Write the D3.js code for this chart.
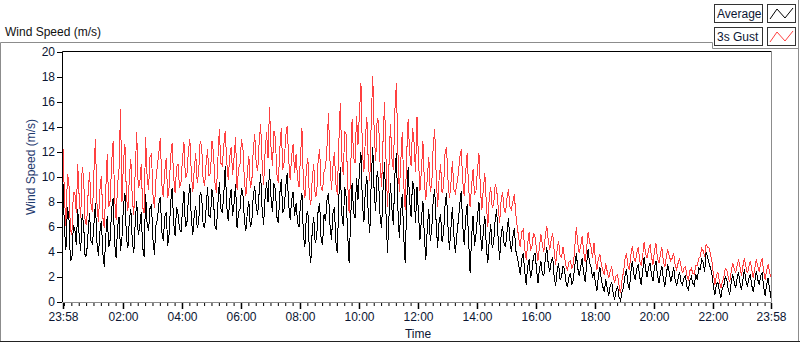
<!DOCTYPE html>
<html>
<head>
<meta charset="utf-8">
<script src="https://cdn.jsdelivr.net/npm/d3@7"></script>
<style>
  body { margin: 0; background: #fff; }
  text { font-family: "Liberation Sans", Arial, sans-serif; }
</style>
</head>
<body>
<div id="chart"></div>
<script>
// samples every 3 minutes, starting 23:58 the day before (one row = one hour)
var stepMinutes = 3;
var seriesNames = ["Average", "3s Gust"];
var yTickValues = [0, 2, 4, 6, 8, 10, 12, 14, 16, 18, 20];
var xTickLabels = ["23:58", "02:00", "04:00", "06:00", "08:00", "10:00", "12:00",
  "14:00", "16:00", "18:00", "20:00", "22:00", "23:58"];

var avgSpeed = [
  9.5, 5.8, 4.2, 7.6, 6.8, 3.3, 3.4, 6.1, 5.9, 4.6, 7.4, 5.2, 4.1, 7.0, 6.2, 3.6, 3.8, 5.5, 7.1, 4.9,
  4.6, 6.3, 7.9, 4.8, 3.7, 5.6, 6.5, 3.9, 2.8, 5.3, 6.9, 4.4, 5.0, 7.5, 8.3, 4.7, 3.5, 6.0, 6.8, 4.1,
  5.2, 7.7, 8.7, 5.1, 4.3, 6.6, 7.4, 4.8, 3.9, 6.4, 8.1, 5.4, 6.0, 7.2, 4.4, 3.6, 8.6, 6.3, 5.7, 7.5,
  7.8, 5.0, 3.8, 6.1, 6.6, 7.9, 8.4, 5.6, 4.9, 6.8, 7.2, 4.5, 5.5, 8.0, 9.1, 6.4, 5.3, 7.6, 7.0, 5.8,
  5.6, 7.3, 8.9, 6.0, 6.3, 8.2, 9.4, 6.7, 5.4, 7.0, 7.7, 5.9, 6.4, 8.8, 8.5, 6.2, 5.9, 7.4, 9.2, 6.9,
  6.8, 9.0, 8.2, 6.1, 5.8, 7.8, 9.6, 7.5, 7.1, 8.6, 10.9, 7.7, 6.5, 8.1, 9.0, 6.9, 7.9, 9.4, 5.9, 7.2,
  7.4, 9.1, 8.6, 6.5, 5.7, 7.2, 8.1, 6.0, 6.4, 8.5, 9.3, 7.6, 7.0, 8.8, 10.2, 7.4, 6.2, 8.3, 9.6, 8.0,
  10.6, 8.4, 7.2, 9.5, 9.0, 6.8, 6.3, 8.7, 9.8, 7.1, 7.5, 9.2, 10.3, 7.8, 6.6, 8.1, 8.8, 6.9, 7.9, 6.4,
  6.0, 7.8, 8.7, 5.3, 4.4, 6.9, 7.3, 4.2, 3.1, 5.8, 6.8, 4.7, 5.2, 7.4, 7.9, 5.0, 4.6, 7.0, 6.5, 8.2,
  8.7, 6.2, 5.0, 7.1, 7.6, 4.8, 3.9, 8.3, 10.8, 7.0, 6.1, 9.2, 8.4, 5.4, 3.1, 6.6, 9.5, 7.2, 6.7, 9.9,
  8.2, 10.6, 12.0, 7.8, 6.4, 9.0, 10.1, 6.9, 5.5, 9.8, 12.4, 8.6, 7.3, 10.5, 9.6, 6.8, 5.9, 9.1, 11.2, 7.0,
  3.9, 6.8, 9.5, 7.4, 6.2, 10.2, 11.9, 7.6, 5.1, 7.3, 8.6, 5.2, 3.1, 7.9, 10.8, 8.1, 6.8, 9.7, 9.0, 6.3,
  9.2, 7.1, 5.0, 6.6, 8.1, 5.2, 3.4, 6.0, 7.4, 4.9, 5.8, 8.2, 9.0, 6.3, 4.3, 6.5, 7.0, 4.8, 5.5, 7.7,
  8.7, 6.0, 4.2, 5.9, 7.6, 5.3, 3.9, 5.4, 6.5, 7.8, 8.9, 6.1, 4.6, 6.7, 7.8, 4.9, 2.3, 5.2, 6.9, 4.5,
  5.4, 6.9, 8.0, 5.5, 4.1, 5.7, 6.9, 4.4, 3.1, 5.0, 6.2, 4.3, 4.8, 6.6, 7.4, 5.1, 3.4, 5.3, 6.1, 4.7,
  4.4, 5.6, 6.7, 4.9, 4.0, 5.2, 5.9, 4.1, 3.6, 2.9, 2.2, 3.4, 3.9, 2.5, 1.4, 2.8, 3.4, 1.9, 2.6, 3.7,
  3.9, 2.7, 1.5, 2.6, 3.3, 2.2, 2.1, 3.5, 4.4, 3.0, 2.4, 3.2, 3.6, 2.0, 1.3, 2.5, 3.1, 1.8, 2.0, 2.9,
  2.6, 1.6, 1.2, 2.0, 2.3, 1.4, 1.8, 2.9, 3.9, 2.7, 2.1, 2.8, 3.5, 2.3, 1.6, 3.0, 4.2, 3.1, 2.8, 1.9,
  2.4, 1.5, 0.9, 2.1, 2.8, 1.7, 1.2, 0.8, 1.8, 1.1, 0.5, 1.3, 1.6, 0.7, 0.2, 0.9, 1.3, 0.4, 0.1, 0.8,
  1.2, 2.1, 2.6, 1.5, 1.0, 2.4, 3.3, 2.2, 1.8, 2.7, 3.0, 2.0, 1.4, 2.5, 3.6, 2.6, 2.0, 2.8, 3.1, 2.2,
  1.7, 2.8, 3.3, 2.2, 1.5, 2.3, 2.9, 1.9, 1.2, 2.2, 3.0, 2.4, 1.6, 2.1, 2.8, 1.8, 1.3, 1.9, 2.4, 1.6,
  1.4, 1.9, 2.1, 1.2, 1.0, 1.7, 2.0, 1.5, 1.3, 2.2, 1.8, 2.7, 2.6, 3.4, 3.2, 2.4, 4.0, 3.6, 3.1, 2.7,
  2.2, 1.2, 0.6, 1.4, 1.6, 0.9, 0.3, 1.1, 1.3, 2.0, 1.8, 1.0, 0.6, 1.5, 2.2, 1.6, 1.1, 1.9, 2.4, 1.5,
  1.0, 1.8, 2.6, 1.7, 1.2, 1.9, 2.2, 1.3, 0.8, 1.6, 2.5, 1.8, 1.4, 2.1, 2.3, 1.2, 0.5, 1.4, 1.9, 1.1, 0.3
];

var gustSpeed = [
  12.3, 8.4, 6.1, 10.2, 9.6, 5.8, 5.4, 8.7, 8.8, 7.1, 11.0, 8.3, 6.7, 10.8, 9.9, 6.4, 6.2, 8.6, 10.4, 7.8,
  7.2, 10.5, 13.0, 7.9, 6.4, 8.9, 10.1, 6.8, 5.9, 9.0, 11.8, 7.6, 8.1, 11.2, 12.9, 8.3, 6.6, 9.4, 10.7, 15.4,
  8.0, 11.3, 12.6, 8.5, 7.3, 10.0, 11.4, 8.2, 7.0, 10.6, 13.6, 9.1, 9.4, 11.0, 7.6, 7.1, 13.2, 10.1, 9.0, 11.6,
  11.8, 8.6, 7.5, 9.8, 10.9, 12.0, 13.1, 9.4, 8.4, 10.5, 11.5, 8.3, 9.2, 11.7, 12.7, 10.0, 8.7, 10.8, 11.0, 9.1,
  9.6, 11.4, 12.8, 9.9, 10.2, 12.1, 13.0, 10.3, 8.8, 10.6, 11.9, 9.5, 10.4, 12.9, 12.5, 9.8, 9.3, 11.0, 12.2, 10.1,
  10.3, 12.9, 12.0, 9.6, 8.7, 11.4, 13.8, 11.1, 10.9, 12.5, 13.7, 11.2, 9.8, 11.6, 12.4, 10.2, 11.6, 13.2, 9.0, 10.7,
  11.0, 13.0, 12.3, 9.7, 8.5, 10.4, 11.7, 9.1, 9.6, 12.2, 13.4, 11.0, 10.5, 12.8, 14.2, 11.1, 9.4, 11.9, 13.6, 11.5,
  15.6, 12.4, 10.9, 13.7, 13.1, 10.2, 9.5, 12.3, 13.9, 10.6, 11.2, 13.3, 14.1, 11.4, 9.8, 11.7, 12.6, 10.3, 11.8, 9.9,
  9.2, 11.6, 13.9, 9.4, 8.3, 10.7, 11.5, 8.5, 7.8, 9.9, 11.0, 8.4, 8.6, 11.4, 12.2, 9.0, 8.9, 10.5, 10.7, 12.5,
  15.1, 11.3, 9.0, 10.8, 12.0, 9.4, 8.6, 12.7, 15.9, 11.4, 10.2, 13.6, 13.4, 9.5, 7.1, 10.4, 14.6, 11.6, 11.1, 14.9,
  12.6, 15.2, 17.5, 12.0, 10.4, 13.1, 14.8, 11.0, 9.7, 14.6, 18.1, 13.5, 11.3, 14.7, 14.4, 10.9, 9.2, 13.0, 16.0, 11.4,
  7.6, 10.9, 14.2, 11.5, 10.6, 15.3, 17.5, 12.2, 8.8, 11.2, 13.6, 9.4, 7.4, 11.8, 14.6, 12.0, 10.9, 13.9, 12.8, 10.4,
  14.8, 11.4, 8.9, 10.5, 12.9, 9.6, 8.2, 10.0, 11.6, 8.8, 9.4, 12.5, 13.8, 10.1, 7.6, 9.9, 11.0, 8.7, 9.2, 11.9,
  12.4, 9.8, 8.3, 9.5, 11.3, 9.0, 8.7, 9.4, 10.2, 11.6, 12.2, 9.7, 8.5, 10.4, 11.9, 9.1, 7.6, 9.3, 10.6, 8.6,
  8.9, 10.6, 11.9, 9.0, 7.4, 9.1, 10.3, 7.9, 6.0, 8.4, 9.2, 7.5, 7.8, 9.4, 9.0, 7.7, 6.3, 8.1, 8.8, 7.5,
  7.1, 8.3, 9.0, 7.6, 7.4, 8.0, 8.6, 7.0, 6.0, 5.1, 4.4, 5.6, 5.8, 4.3, 3.4, 4.6, 5.6, 4.1, 4.5, 5.5,
  5.2, 4.3, 3.3, 4.4, 5.4, 4.6, 4.0, 5.3, 6.1, 4.9, 4.2, 5.0, 5.5, 4.1, 3.0, 4.2, 4.9, 3.7, 3.6, 4.4,
  3.6, 2.9, 2.5, 3.2, 3.3, 2.7, 3.0, 4.4, 6.0, 4.7, 3.9, 4.5, 5.3, 4.0, 3.2, 4.3, 5.6, 4.8, 4.4, 3.5,
  4.7, 3.3, 2.6, 3.5, 3.8, 3.0, 2.5, 2.2, 3.1, 2.4, 1.9, 2.5, 2.8, 2.0, 1.6, 2.1, 2.2, 1.3, 0.7, 1.8,
  2.4, 3.4, 3.9, 2.9, 2.6, 3.8, 4.5, 3.6, 3.2, 3.9, 4.4, 3.3, 2.9, 3.7, 4.8, 3.9, 3.5, 4.2, 4.6, 3.6,
  3.0, 4.1, 4.7, 3.5, 3.1, 3.8, 4.4, 3.3, 2.8, 3.6, 4.2, 3.7, 3.3, 3.5, 3.9, 3.0, 2.6, 3.1, 3.5, 2.9,
  2.3, 2.7, 2.8, 2.1, 1.8, 2.5, 2.7, 2.3, 2.2, 2.9, 2.9, 3.5, 3.6, 4.3, 4.1, 3.6, 4.6, 4.4, 4.3, 3.8,
  3.2, 2.2, 1.4, 2.1, 2.4, 1.7, 1.1, 1.6, 2.0, 2.7, 2.6, 2.0, 1.6, 2.4, 3.1, 2.7, 2.3, 2.9, 3.4, 2.8,
  2.1, 2.9, 3.5, 2.8, 2.3, 2.8, 3.3, 2.6, 1.9, 2.7, 3.4, 2.9, 2.4, 3.1, 3.5, 2.5, 1.8, 2.5, 3.0, 2.4, 2.0
];

var svgWidth = 800;
var svgHeight = 342;

var margin = { top: 52, bottom: 40, right: 29, left: 63 };
var width = svgWidth - margin.left - margin.right;
var height = svgHeight - margin.top - margin.bottom;

var svg = d3.select("#chart")
  .append("svg")
  .attr("width", svgWidth)
  .attr("height", svgHeight);

// times
var startTime = new Date(2000, 0, 1, 23, 58);
var endTime = new Date(2000, 0, 2, 23, 58);
var timeOf = function(i) { return new Date(startTime.getTime() + i * stepMinutes * 60000); };

var xTimeScale = d3.scaleTime()
  .domain([startTime, endTime])
  .range([0, width]);

var yLinearScale = d3.scaleLinear()
  .domain([0, 20])
  .range([height, 0]);

// outer panel frame
svg.append("path")
  .attr("d", "M0.5,341 V42.5 H712.5 V48.5 H798.5 V0")
  .attr("fill", "none")
  .attr("stroke", "#8c8c8c");
svg.append("line")
  .attr("x1", 0).attr("x2", 800).attr("y1", 341.5).attr("y2", 341.5)
  .attr("stroke", "#222");
svg.append("line")
  .attr("x1", 798.5).attr("x2", 798.5).attr("y1", 48).attr("y2", 341)
  .attr("stroke", "#8c8c8c");

svg.append("text")
  .attr("x", 5)
  .attr("y", 36)
  .attr("font-size", 12)
  .attr("fill", "#111")
  .text("Wind Speed (m/s)");

var chartGroup = svg.append("g")
  .attr("transform", `translate(${margin.left}, ${margin.top})`);

// plot area borders: dark on top/left, gray on right/bottom
chartGroup.append("path")
  .attr("d", `M-0.5,${height} V-0.5 H${width + 0.5}`)
  .attr("fill", "none")
  .attr("stroke", "#000");
chartGroup.append("path")
  .attr("d", `M-0.5,${height + 0.5} H${width + 0.5} V-0.5`)
  .attr("fill", "none")
  .attr("stroke", "#8c8c8c");

// y axis
var yAxis = d3.axisLeft(yLinearScale)
  .tickValues(yTickValues)
  .tickSize(5)
  .tickPadding(2)
  .tickFormat(d3.format("d"));

var yAxisGroup = chartGroup.append("g")
  .attr("transform", "translate(-1, 0)")
  .call(yAxis);
yAxisGroup.select(".domain").remove();
yAxisGroup.selectAll("line").attr("stroke", "#000");
yAxisGroup.selectAll("text")
  .attr("font-size", 12)
  .attr("font-family", "Liberation Sans, Arial, sans-serif")
  .attr("fill", "#0c1633");

// x axis: majors every 2 hours plus both ends, minors every 15 minutes
var majorTimes = [startTime];
d3.timeHour.every(2).range(new Date(2000, 0, 2, 2), endTime).forEach(function(t) { majorTimes.push(t); });
majorTimes.push(endTime);

var minorTimes = d3.timeMinute.every(15).range(startTime, endTime);

var xMinorAxis = d3.axisBottom(xTimeScale)
  .tickValues(minorTimes)
  .tickSize(3)
  .tickFormat("");
var xMinorGroup = chartGroup.append("g")
  .attr("transform", `translate(0, ${height + 1})`)
  .call(xMinorAxis);
xMinorGroup.select(".domain").remove();
xMinorGroup.selectAll("line").attr("stroke", "#000");

var xAxis = d3.axisBottom(xTimeScale)
  .tickValues(majorTimes)
  .tickSize(6)
  .tickPadding(3)
  .tickFormat(function(d, i) { return xTickLabels[i]; });
var xAxisGroup = chartGroup.append("g")
  .attr("transform", `translate(0, ${height + 1})`)
  .call(xAxis);
xAxisGroup.select(".domain").remove();
xAxisGroup.selectAll("line").attr("stroke", "#000").attr("stroke-width", 1.5);
xAxisGroup.selectAll("text")
  .attr("font-size", 12)
  .attr("font-family", "Liberation Sans, Arial, sans-serif")
  .attr("fill", "#0c1633");

// lines (crisp, like the LabVIEW graph)
chartGroup.append("clipPath").attr("id", "plotClip")
  .append("rect").attr("x", 0).attr("y", 0).attr("width", width).attr("height", height);

var lineGen = d3.line()
  .x(function(d, i) { return xTimeScale(timeOf(i)); })
  .y(function(d) { return yLinearScale(d); });

chartGroup.append("path")
  .datum(gustSpeed)
  .attr("clip-path", "url(#plotClip)")
  .attr("d", lineGen)
  .attr("fill", "none")
  .attr("stroke", "#ff4040")
  .attr("stroke-width", 1)
  .attr("shape-rendering", "crispEdges");

chartGroup.append("path")
  .datum(avgSpeed)
  .attr("clip-path", "url(#plotClip)")
  .attr("d", lineGen)
  .attr("fill", "none")
  .attr("stroke", "#000")
  .attr("stroke-width", 1)
  .attr("shape-rendering", "crispEdges");

// axis labels
chartGroup.append("text")
  .attr("transform", "rotate(-90)")
  .attr("x", 0 - (height / 2) + 10)
  .attr("y", 0 - margin.left + 35)
  .attr("text-anchor", "middle")
  .attr("font-size", 12)
  .attr("fill", "#1f3a6e")
  .text("Wind Speed (m/s)");

chartGroup.append("text")
  .attr("x", 355)
  .attr("y", height + 36)
  .attr("text-anchor", "middle")
  .attr("font-size", 12)
  .attr("fill", "#0c1633")
  .text("Time");

// legend
var legendColors = ["#000", "#ff4040"];
var legend = svg.append("g").attr("transform", "translate(714, 4)");
seriesNames.forEach(function(name, i) {
  var row = legend.append("g").attr("transform", `translate(0, ${i * 23})`);
  row.append("rect")
    .attr("x", 0.5).attr("y", 0.5).attr("width", 48).attr("height", 18)
    .attr("fill", "#fff").attr("stroke", "#333");
  row.append("text")
    .attr("x", 3).attr("y", 14)
    .attr("font-size", 12)
    .attr("fill", "#0c1633")
    .text(name);
  row.append("rect")
    .attr("x", 53.5).attr("y", 0.5).attr("width", 28).attr("height", 18)
    .attr("fill", "#fff").attr("stroke", "#333");
  row.append("path")
    .attr("d", "M56,15 L63,5 L71,14 L79,4")
    .attr("fill", "none")
    .attr("stroke", legendColors[i]);
});
</script>
</body>
</html>
